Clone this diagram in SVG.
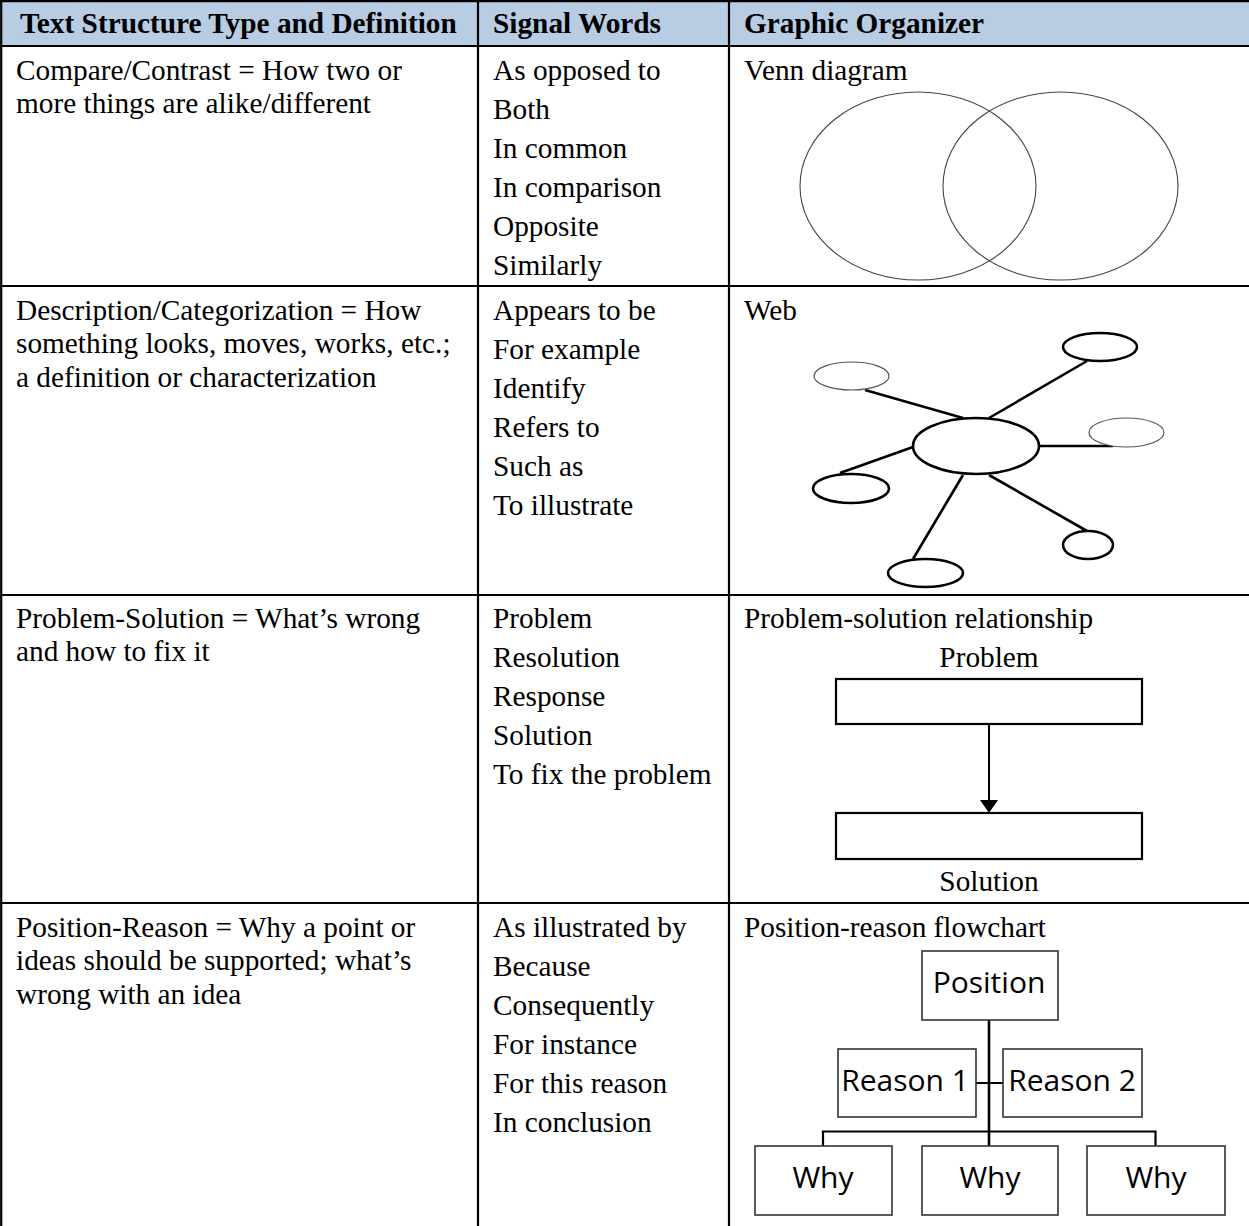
<svg xmlns="http://www.w3.org/2000/svg" width="1249" height="1226" viewBox="0 0 1249 1226">
<style>
.t{font-family:"Liberation Serif","Times New Roman",serif;font-size:29.3px;fill:#000}
.h{font-family:"Liberation Serif","Times New Roman",serif;font-size:29.3px;font-weight:bold;fill:#000}
.s{font-family:"Open Sans","Liberation Sans",sans-serif;font-size:30px;fill:#000;text-anchor:middle}
.grid{stroke:#000;stroke-width:2.2;fill:none}
.thin{fill:#fff;stroke:#555;stroke-width:1.2}
.thick{fill:#fff;stroke:#000;stroke-width:2.6}
.wl{stroke:#000;stroke-width:2.6;fill:none}
.box{fill:#fff;stroke:#333;stroke-width:1.6}
.psbox{fill:#fff;stroke:#000;stroke-width:2.2}
</style>
<rect width="1249" height="1226" fill="#fff"/>
<rect x="0" y="0" width="1249" height="46" fill="#b8cce4"/>
<g id="table-grid" class="grid">
<line x1="0" y1="1.2" x2="1249" y2="1.2"/>
<line x1="0" y1="46" x2="1249" y2="46"/>
<line x1="0" y1="286" x2="1249" y2="286"/>
<line x1="0" y1="595" x2="1249" y2="595"/>
<line x1="0" y1="903" x2="1249" y2="903"/>
<line x1="1.2" y1="0" x2="1.2" y2="1226"/>
<line x1="478" y1="0" x2="478" y2="1226"/>
<line x1="729" y1="0" x2="729" y2="1226"/>
</g>
<g id="header">
<text class="h" x="20" y="33">Text Structure Type and Definition</text>
<text class="h" x="493" y="33">Signal Words</text>
<text class="h" x="744" y="33">Graphic Organizer</text>
</g>
<g id="row-compare">
<text class="t" x="16" y="80">Compare/Contrast = How two or</text>
<text class="t" x="16" y="113">more things are alike/different</text>
<text class="t" x="493" y="80">As opposed to</text>
<text class="t" x="493" y="119">Both</text>
<text class="t" x="493" y="158">In common</text>
<text class="t" x="493" y="197">In comparison</text>
<text class="t" x="493" y="236">Opposite</text>
<text class="t" x="493" y="275">Similarly</text>
<text class="t" x="744" y="80">Venn diagram</text>
<g id="venn" fill="none" stroke="#444" stroke-width="1.1">
<ellipse cx="918" cy="186" rx="118" ry="94"/>
<ellipse cx="1060.5" cy="186" rx="117.5" ry="94"/>
</g>
</g>
<g id="row-description">
<text class="t" x="16" y="320">Description/Categorization = How</text>
<text class="t" x="16" y="353">something looks, moves, works, etc.;</text>
<text class="t" x="16" y="387">a definition or characterization</text>
<text class="t" x="493" y="320">Appears to be</text>
<text class="t" x="493" y="359">For example</text>
<text class="t" x="493" y="398">Identify</text>
<text class="t" x="493" y="437">Refers to</text>
<text class="t" x="493" y="476">Such as</text>
<text class="t" x="493" y="515">To illustrate</text>
<text class="t" x="744" y="320">Web</text>
<g id="web-links" class="wl">
<line x1="865" y1="390" x2="963" y2="418"/>
<line x1="989" y1="418" x2="1087" y2="361"/>
<line x1="1039" y1="446" x2="1113" y2="446"/>
<line x1="913" y1="447" x2="840" y2="473"/>
<line x1="963" y1="475" x2="913" y2="559"/>
<line x1="989" y1="475" x2="1087" y2="531"/>
</g>
<g id="web-center"><ellipse class="thick" cx="976" cy="446" rx="63" ry="28"/></g>
<g id="web-n1"><ellipse class="thin" cx="851.5" cy="376" rx="37.5" ry="14"/></g>
<g id="web-n2"><ellipse class="thick" cx="1100" cy="347" rx="37" ry="14"/></g>
<g id="web-n3"><ellipse class="thin" cx="1126.5" cy="432.5" rx="37.5" ry="14.5"/></g>
<g id="web-n4"><ellipse class="thick" cx="851" cy="488.5" rx="38" ry="14.5"/></g>
<g id="web-n5"><ellipse class="thick" cx="925.5" cy="573" rx="37.5" ry="14"/></g>
<g id="web-n6"><ellipse class="thick" cx="1088" cy="545" rx="25" ry="14"/></g>
</g>
<g id="row-problem">
<text class="t" x="16" y="628">Problem-Solution = What’s wrong</text>
<text class="t" x="16" y="661">and how to fix it</text>
<text class="t" x="493" y="628">Problem</text>
<text class="t" x="493" y="667">Resolution</text>
<text class="t" x="493" y="706">Response</text>
<text class="t" x="493" y="745">Solution</text>
<text class="t" x="493" y="784">To fix the problem</text>
<text class="t" x="744" y="628">Problem-solution relationship</text>
<g id="ps-problem">
<text class="t" x="989" y="667" text-anchor="middle">Problem</text>
<rect class="psbox" x="836" y="679" width="306" height="45"/>
</g>
<g id="ps-solution">
<rect class="psbox" x="836" y="813" width="306" height="46"/>
<text class="t" x="989" y="891" text-anchor="middle">Solution</text>
</g>
<g id="ps-connector">
<line x1="989" y1="724" x2="989" y2="802" stroke="#000" stroke-width="2"/>
<path d="M980,800 L998,800 L989,813 Z" fill="#000"/>
</g>
</g>
<g id="row-position">
<text class="t" x="16" y="937">Position-Reason = Why a point or</text>
<text class="t" x="16" y="970">ideas should be supported; what’s</text>
<text class="t" x="16" y="1004">wrong with an idea</text>
<text class="t" x="493" y="937">As illustrated by</text>
<text class="t" x="493" y="976">Because</text>
<text class="t" x="493" y="1015">Consequently</text>
<text class="t" x="493" y="1054">For instance</text>
<text class="t" x="493" y="1093">For this reason</text>
<text class="t" x="493" y="1132">In conclusion</text>
<text class="t" x="744" y="937">Position-reason flowchart</text>
<g id="pr-connectors" class="wl">
<line x1="989" y1="1020" x2="989" y2="1146"/>
<line x1="976" y1="1083" x2="1003" y2="1083" stroke-width="2"/>
<path d="M823,1146 V1131.5 H1155.5 V1146" stroke-width="2.2"/>
</g>
<g id="pr-position"><rect class="box" x="922" y="951" width="136" height="69"/><text class="s" x="989" y="993">Position</text></g>
<g id="pr-reason1"><rect class="box" x="838" y="1049" width="138" height="68"/><text class="s" x="905" y="1091">Reason 1</text></g>
<g id="pr-reason2"><rect class="box" x="1003" y="1049" width="139" height="68"/><text class="s" x="1072" y="1091">Reason 2</text></g>
<g id="pr-why1"><rect class="box" x="755" y="1146" width="137" height="69"/><text class="s" x="823" y="1188">Why</text></g>
<g id="pr-why2"><rect class="box" x="922" y="1146" width="136" height="69"/><text class="s" x="990" y="1188">Why</text></g>
<g id="pr-why3"><rect class="box" x="1087" y="1146" width="138" height="69"/><text class="s" x="1156" y="1188">Why</text></g>
</g>
</svg>
